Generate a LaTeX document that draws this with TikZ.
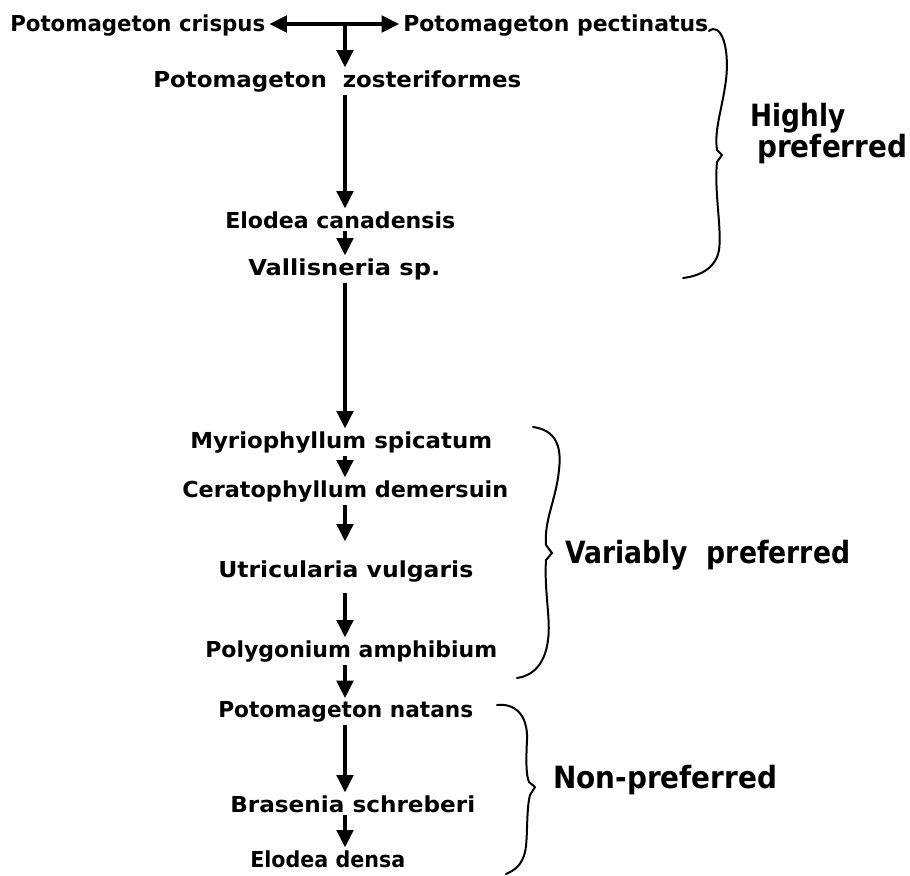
\documentclass[tikz,border=0pt]{standalone}
\usepackage{fontspec}
\setmainfont{DejaVu Sans}
\usetikzlibrary{arrows.meta}
\newcommand{\fitbox}[2]{\resizebox{#1pt}{\height}{#2}}
\tikzset{
  sp/.style={font=\bfseries\fontsize{16.5}{19}\selectfont, inner xsep=0pt, inner ysep=2pt, anchor=base west},
  cat/.style={font=\bfseries\fontsize{23}{26}\selectfont, inner sep=0pt, anchor=base west},
  arr/.style={line width=2.3pt, -{Triangle[length=13pt,width=12.5pt]}},
  brace/.style={line width=1.5pt, line join=round, line cap=round}
}
\begin{document}
\begin{tikzpicture}[x=0.75pt,y=-0.75pt]
\useasboundingbox (0,0) rectangle (910,875);
% species
\node[sp] (crisp) at (10,31) {\fitbox{191.25}{Potomageton crispus}};
\node[sp] (pect)  at (403,31) {\fitbox{228.75}{Potomageton pectinatus}};
\node[sp] (zost)  at (153,87) {\fitbox{276}{Potomageton\ \ zosteriformes}};
\node[sp] (elc)   at (225,228) {\fitbox{172.5}{Elodea canadensis}};
\node[sp] (val)   at (248,275) {\fitbox{144}{Vallisneria sp.}};
\node[sp] (myr)   at (190,448) {\fitbox{226.5}{Myriophyllum spicatum}};
\node[sp] (cer)   at (182,497) {\fitbox{244.5}{Ceratophyllum demersuin}};
\node[sp] (utr)   at (218,577) {\fitbox{191.25}{Utricularia vulgaris}};
\node[sp] (pol)   at (205,657) {\fitbox{219}{Polygonium amphibium}};
\node[sp] (nat)   at (218,717) {\fitbox{191.25}{Potomageton natans}};
\node[sp] (bra)   at (230,812) {\fitbox{183.75}{Brasenia schreberi}};
\node[sp] (eld)   at (250,867) {\fitbox{116.25}{Elodea densa}};
% categories
\node[cat] (hi1) at (750,126) {\fitbox{71.25}{Highly}};
\node[cat] (hi2) at (757,157) {\fitbox{112.5}{preferred}};
\node[cat] (var) at (565,563) {\fitbox{213.75}{Variably\ \ preferred}};
\node[cat] (non) at (553,788) {\fitbox{168}{Non-preferred}};
% junction
\coordinate (j) at (345,24);
\draw[arr, shorten >=3pt] (j) -- (crisp.east |- j);
\draw[arr, shorten >=3pt] (j) -- (pect.west |- j);
\draw[arr] (j) -- (zost.north -| j);
\draw[arr] (zost.south -| j) -- (elc.north -| j);
\draw[arr] (elc.south -| j) -- (val.north -| j);
\draw[arr] (val.south -| j) -- (myr.north -| j);
\draw[arr] (myr.south -| j) -- (cer.north -| j);
\draw[arr, shorten >=12pt] (cer.south -| j) -- (utr.north -| j);
\draw[arr, shorten <=6pt] (utr.south -| j) -- (pol.north -| j);
\draw[arr] (pol.south -| j) -- (nat.north -| j);
\draw[arr] (nat.south -| j) -- (bra.north -| j);
\draw[arr] (bra.south -| j) -- (eld.north -| j);
% braces
\draw[brace] (709,31) .. controls (720,22) and (730,45) .. (726,80) .. controls (722,110) and (714,130) .. (717,150) -- (722,155) -- (717,162) .. controls (714,190) and (722,230) .. (719,250) .. controls (716,268) and (700,276) .. (683,278);
\draw[brace] (533,427) .. controls (555,430) and (562,445) .. (559,470) .. controls (556,500) and (544,520) .. (546,545) -- (552,553) -- (546,560) .. controls (544,590) and (551,620) .. (548,640) .. controls (545,665) and (532,676) .. (517,678);
\draw[brace] (497,705) .. controls (515,703) and (528,715) .. (527,740) .. controls (526,760) and (526,775) .. (529,782) -- (535,787) -- (530,795) .. controls (526,810) and (528,840) .. (525,852) .. controls (522,865) and (515,870) .. (506,874);
\end{tikzpicture}
\end{document}
